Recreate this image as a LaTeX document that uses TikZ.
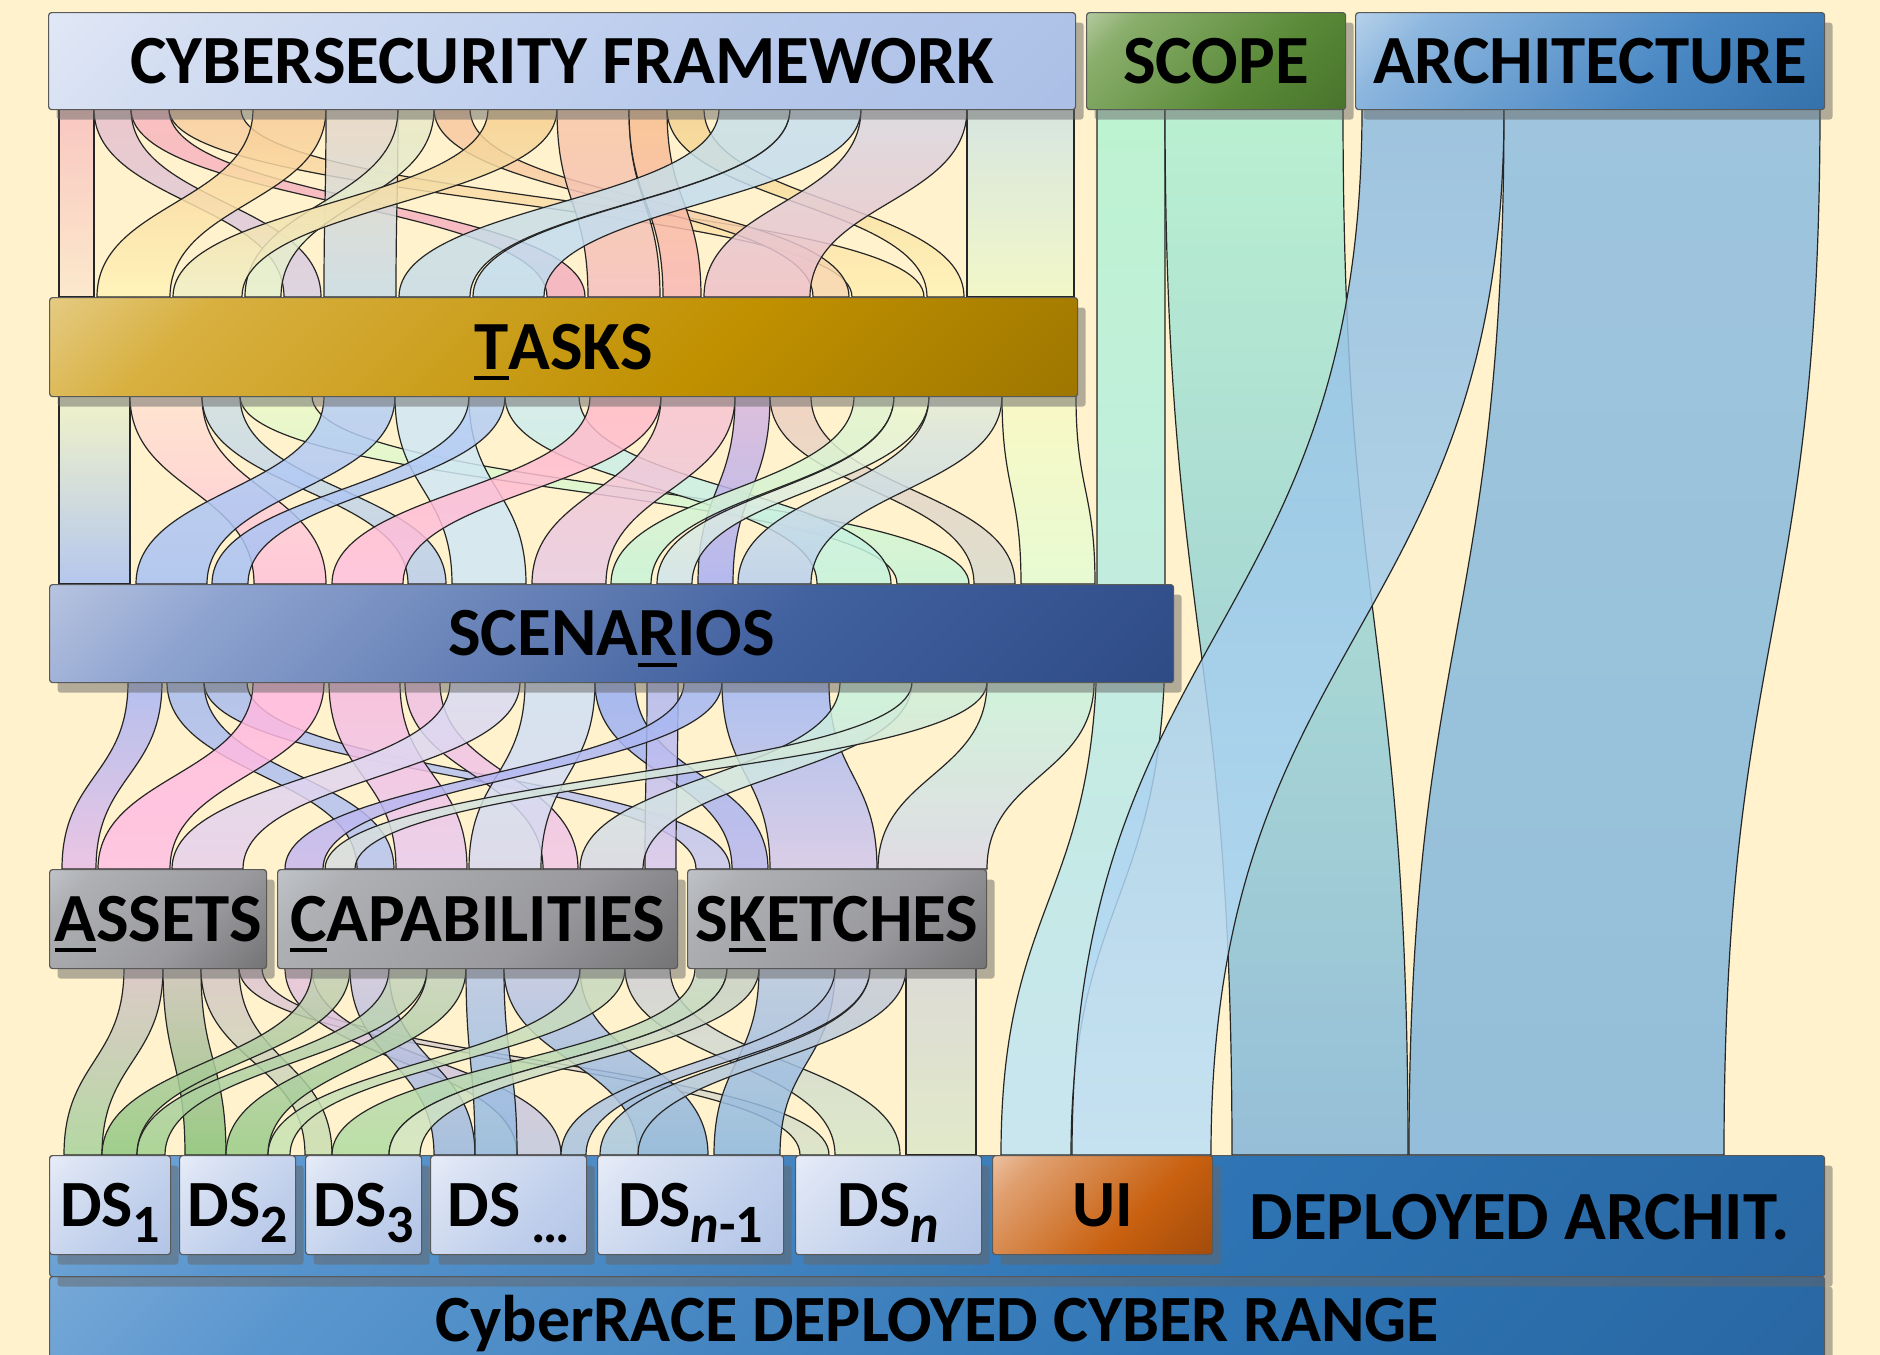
\documentclass[tikz,border=0pt]{standalone}
\usepackage{fontspec}
\setmainfont{Carlito}
\usetikzlibrary{shadows}
\definecolor{bg}{HTML}{FFF2CC}
\definecolor{csfA}{HTML}{F2F5FB}\definecolor{csfB}{HTML}{D4DEF2}\definecolor{csfC}{HTML}{B8CAEC}\definecolor{csfD}{HTML}{A4B9E3}
\definecolor{scoA}{HTML}{ECF0E6}\definecolor{scoB}{HTML}{8AAE6C}\definecolor{scoC}{HTML}{5A8A38}\definecolor{scoD}{HTML}{3E6626}
\definecolor{arcA}{HTML}{F0F5FB}\definecolor{arcB}{HTML}{8CB6DE}\definecolor{arcC}{HTML}{4A88C4}\definecolor{arcD}{HTML}{28659E}
\definecolor{tasA}{HTML}{F6F0DC}\definecolor{tasB}{HTML}{D8B040}\definecolor{tasC}{HTML}{C09000}\definecolor{tasD}{HTML}{8A6800}
\definecolor{scnA}{HTML}{EEF0F8}\definecolor{scnB}{HTML}{8FA4D0}\definecolor{scnC}{HTML}{40609E}\definecolor{scnD}{HTML}{243F78}
\definecolor{gryA}{HTML}{D8DCE2}\definecolor{gryB}{HTML}{AEB0B4}\definecolor{gryC}{HTML}{9A9A9E}\definecolor{gryD}{HTML}{5E5E60}
\definecolor{dsA}{HTML}{F8F9FD}\definecolor{dsB}{HTML}{DCE4F4}\definecolor{dsC}{HTML}{C0CFEB}\definecolor{dsD}{HTML}{AABEE4}
\definecolor{uiA}{HTML}{FAEEE6}\definecolor{uiB}{HTML}{E0A070}\definecolor{uiC}{HTML}{C8600F}\definecolor{uiD}{HTML}{8E400A}
\definecolor{depA}{HTML}{9EC2E6}\definecolor{depB}{HTML}{5A96CE}\definecolor{depC}{HTML}{2E74B4}\definecolor{depD}{HTML}{255F98}
\colorlet{bxA}{white}\colorlet{bxB}{white}\colorlet{bxC}{white}\colorlet{bxD}{white}
\pgfdeclarehorizontalshading[bxA,bxB,bxC,bxD]{bxsh}{100bp}{color(0bp)=(bxA); color(25bp)=(bxB); color(60bp)=(bxC); color(100bp)=(bxD)}
\newcommand\rb[8]{%
  \pgfmathsetmacro\ym{(#3+#6)/2}%
  \definecolor{ta}{HTML}{#7}\definecolor{tb}{HTML}{#8}%
  \path[rib, top color=ta, bottom color=tb] (#1,#3) .. controls (#1,\ym) and (#4,\ym) .. (#4,#6)
     -- (#5,#6) .. controls (#5,\ym) and (#2,\ym) .. (#2,#3) -- cycle;}
\newcommand\ulx[1]{\setbox0\hbox{#1}\rlap{\smash{\rule[-5.5pt]{\wd0}{2pt}}}\box0}
\newcommand\sbx[1]{\smash{\raisebox{-8pt}{\fontsize{27}{27}\selectfont #1}}}
\tikzset{
  rib/.style={fill opacity=0.85, draw=black!85, draw opacity=1, line width=0.6pt},
  box/.style={draw=black!65, line width=0.6pt, rounded corners=1.5pt, inner sep=0pt,
    anchor=north west, drop shadow={shadow xshift=4pt, shadow yshift=-5pt, fill=black!60, opacity=0.5}},
  sz/.style 2 args={minimum width=#1*0.5pt, minimum height=#2*0.5pt},
  sh/.style={/utils/exec={\colorlet{bxA}{#1A}\colorlet{bxB}{#1B}\colorlet{bxC}{#1C}\colorlet{bxD}{#1D}},
    shade, shading=bxsh, shading angle=-45},
  tA/.style={font=\fontsize{34.5}{34.5}\selectfont\bfseries, text height=22.2pt, text depth=0pt},
  tC/.style={font=\fontsize{33}{33}\selectfont\bfseries, text height=21.2pt, text depth=0pt},
}
\begin{document}
\begin{tikzpicture}[x=0.5pt, y=-0.5pt]
\useasboundingbox (0,0) rectangle (1880,1355);
\clip (0,0) rectangle (1880,1355);
\fill[bg] (0,0) rectangle (1880,1355);

% ---- right-side bands (scope / architecture) ----
\definecolor{ta}{HTML}{B2F4D2}\definecolor{tb}{HTML}{C0E4F6}
\path[rib, top color=ta, bottom color=tb] (1097,109) -- (1097,640) .. controls (1097,900) and (1001,900) .. (1001,1155)
   -- (1071,1155) .. controls (1071,900) and (1165,900) .. (1165,640) -- (1165,109) -- cycle;
\definecolor{ta}{HTML}{AEF0D2}\definecolor{tb}{HTML}{84B6DA}
\path[rib, top color=ta, bottom color=tb] (1165,109) .. controls (1165,632) and (1232,632) .. (1232,1155)
   -- (1408,1155) .. controls (1408,632) and (1343,632) .. (1343,109) -- cycle;
\definecolor{ta}{HTML}{8EBCE2}\definecolor{tb}{HTML}{BCE0F8}
\path[rib, top color=ta, bottom color=tb] (1362,109) .. controls (1362,632) and (1072,632) .. (1072,1155)
   -- (1211,1155) .. controls (1211,632) and (1504,632) .. (1504,109) -- cycle;
\definecolor{ta}{HTML}{8EBEE0}\definecolor{tb}{HTML}{82B6DC}
\path[rib, top color=ta, bottom color=tb] (1504,109) .. controls (1504,632) and (1409,632) .. (1409,1155)
   -- (1724,1155) .. controls (1724,632) and (1820,632) .. (1820,109) -- cycle;

% ---- layer 1: framework -> tasks ----
\rb{59}{94}{109}{59}{94}{297}{F9C0C0}{FCE8CC}
\rb{94}{131}{109}{284}{321}{297}{E8C0CC}{D8D0E4}
\rb{131}{169}{109}{547}{585}{297}{F8B8C0}{F4B0C0}
\rb{169}{241}{109}{852}{924}{297}{F8CCA0}{FFF0B0}
\rb{253}{326}{109}{97}{170}{297}{F8CC98}{FFF4B8}
\rb{326}{398}{109}{324}{396}{297}{E8D8C8}{C8DCE8}
\rb{398}{434}{109}{245}{281}{297}{E8E8C8}{E4F0D0}
\rb{434}{470}{109}{813}{849}{297}{F8C8A0}{F8D8B0}
\rb{488}{557}{109}{173}{242}{297}{F8D090}{F0F0C8}
\rb{557}{629}{109}{588}{660}{297}{F8C8A8}{F4C0C0}
\rb{629}{667}{109}{663}{701}{297}{F8C090}{F8B8B8}
\rb{667}{704}{109}{927}{964}{297}{F4D090}{FFF4B8}
\rb{719}{790}{109}{399}{470}{297}{C8E0E8}{C8DCE8}
\rb{790}{861}{109}{473}{544}{297}{C8E0F0}{C0DCF0}
\rb{861}{967}{109}{704}{810}{297}{D8D8E4}{F0C0C8}
\rb{967}{1074}{109}{967}{1074}{297}{D0E4E4}{F0F8C8}

% ---- layer 2: tasks -> scenarios ----
\rb{59}{130}{396}{59}{130}{584}{F0F4C8}{A8C0F4}
\rb{130}{202}{396}{254}{326}{584}{FFE4D0}{FFC0DC}
\rb{202}{240}{396}{408}{446}{584}{D0E0E4}{B8CCEC}
\rb{240}{312}{396}{897}{969}{584}{ECFAC8}{C8F4D8}
\rb{324}{395}{396}{136}{207}{584}{B8D0F4}{A8C0F4}
\rb{395}{469}{396}{452}{526}{584}{D0E8F4}{D0E8F4}
\rb{469}{505}{396}{212}{248}{584}{B8D0F4}{A8C0F4}
\rb{505}{579}{396}{817}{891}{584}{D0ECF0}{C4F4DC}
\rb{590}{661}{396}{332}{403}{584}{FFBCC8}{FFC0E0}
\rb{661}{735}{396}{532}{606}{584}{F8C4D0}{E8CCE4}
\rb{735}{770}{396}{698}{733}{584}{D8B8E0}{A8B0F4}
\rb{770}{811}{396}{974}{1015}{584}{F0D0C0}{D8DCD0}
\rb{854}{894}{396}{611}{651}{584}{E4F4D0}{C8F4D8}
\rb{894}{929}{396}{657}{692}{584}{ECF8D0}{D0E4EC}
\rb{929}{1002}{396}{738}{811}{584}{E4ECD8}{B8D0F0}
\rb{1002}{1076}{396}{1021}{1095}{584}{F8FAC4}{E4FCD4}

% ---- layer 3: scenarios -> assets / capabilities / sketches ----
\rb{128}{162}{682}{62}{96}{869}{A8B8F4}{E8BEE8}
\rb{167}{204}{682}{357}{394}{869}{A8BCF0}{B8C4F0}
\rb{204}{247}{682}{696}{730}{869}{A8BCF0}{C8C8F0}
\rb{253}{324}{682}{98}{170}{869}{FFB8E0}{FFC0E4}
\rb{329}{400}{682}{396}{467}{869}{F8BCE0}{E8CCF0}
\rb{405}{440}{682}{543}{578}{869}{F0C0E4}{F0C8E8}
\rb{450}{520}{682}{172}{243}{869}{D8DCF4}{E8D0EC}
\rb{525}{595}{682}{469}{541}{869}{D0E2F6}{D8D8F0}
\rb{595}{635}{682}{732}{768}{869}{98B0F4}{B8B8F0}
\rb{647}{678}{682}{645}{676}{869}{B0B8F0}{D8C8F0}
\rb{684}{722}{682}{285}{323}{869}{A0B8F4}{C8B8F0}
\rb{722}{829}{682}{770}{877}{869}{A0B8F4}{D4C8EC}
\rb{840}{912}{682}{580}{643}{869}{C8F4DC}{D8D8E8}
\rb{912}{987}{682}{325}{355}{869}{D0F0D8}{D8DCE0}
\rb{987}{1094}{682}{878}{987}{869}{C8F4DC}{DCD8E8}

% ---- layer 4: assets / capabilities / sketches -> DS ----
\rb{124}{163}{968}{64}{102}{1155}{D8C4C8}{A8D49C}
\rb{163}{201}{968}{185}{226}{1155}{CCC4BC}{88C478}
\rb{201}{239}{968}{305}{332}{1155}{D8C8C8}{C8E0B0}
\rb{239}{262}{968}{800}{829}{1155}{E0C4D4}{D8E4C8}
\rb{285}{312}{968}{517}{561}{1155}{E8C4DC}{C0C8E0}
\rb{312}{350}{968}{102}{137}{1155}{C8D0B8}{90C880}
\rb{350}{389}{968}{434}{475}{1155}{D0C8E0}{98B8E0}
\rb{389}{427}{968}{137}{165}{1155}{C8D4C0}{A0D090}
\rb{427}{466}{968}{226}{268}{1155}{C8D4C0}{98CC88}
\rb{466}{504}{968}{475}{517}{1155}{B8C8E8}{90B8E0}
\rb{504}{580}{968}{638}{708}{1155}{C0C8E8}{88B4DC}
\rb{580}{625}{968}{268}{290}{1155}{C8D8C0}{C8E4B0}
\rb{625}{670}{968}{835}{900}{1155}{D0D0D8}{D8E8C8}
\rb{695}{727}{968}{332}{389}{1155}{C8D8C8}{B0DCA0}
\rb{727}{759}{968}{389}{420}{1155}{C8D0C8}{D0E8C0}
\rb{759}{835}{968}{714}{780}{1155}{B8C8E4}{8CB8E0}
\rb{835}{870}{968}{561}{586}{1155}{C0C8E0}{A8C4E0}
\rb{870}{906}{968}{600}{638}{1155}{C8CCD8}{A8C8E0}
\rb{906}{976}{968}{906}{976}{1155}{D8D8D8}{DCE8C8}

% ---- boxes ----
\node[box, sh=csf, sz={1027}{97}, tA] (csf) at (48,12) {CYBERSECURITY FRAMEWORK};
\node[box, sh=sco, sz={259}{97}, tA] (scope) at (1086,12) {SCOPE};
\node[box, sh=arc, sz={469}{97}, tA] (arch) at (1355,12) {ARCHITECTURE};
\node[box, sh=tas, sz={1028}{99}, tA] (tasks) at (49,297) {\ulx{T}ASKS};
\node[box, sh=scn, sz={1124}{98}, tA] (scen) at (49,584) {SCENA\ulx{R}IOS};
\node[box, sh=gry, sz={217}{99}, tA] (assets) at (49,869) {\ulx{A}SSETS};
\node[box, sh=gry, sz={400}{99}, tA] (cap) at (277,869) {\ulx{C}APABILITIES};
\node[box, sh=gry, sz={299}{99}, tA] (sketch) at (687,869) {S\ulx{K}ETCHES};

\node[box, sh=dep, sz={1775}{88}, tC] (range) at (49,1276) {CyberRACE DEPLOYED CYBER RANGE};
\node[box, sh=dep, sz={1775}{121}] (deploy) at (49,1155) {};
\node[tA, inner sep=0pt] (deploytxt) at (1520,1217) {DEPLOYED ARCHIT.};

\node[box, sh=ds, sz={121}{99}, tC] (ds1) at (49,1155) {DS\sbx{1}};
\node[box, sh=ds, sz={116}{99}, tC] (ds2) at (179,1155) {DS\sbx{2}};
\node[box, sh=ds, sz={116}{99}, tC] (ds3) at (305,1155) {DS\sbx{3}};
\node[box, sh=ds, sz={156}{99}, tC] (dsd) at (430,1155) {DS\,\sbx{…}};
\node[box, sh=ds, sz={186}{99}, tC] (dsn1) at (597,1155) {DS\sbx{\textit{n}-1}};
\node[box, sh=ds, sz={186}{99}, tC] (dsn) at (795,1155) {DS\sbx{\textit{n}}};
\node[box, sh=ui, sz={220}{99}, tC] (ui) at (992,1155) {UI};
\end{tikzpicture}
\end{document}
